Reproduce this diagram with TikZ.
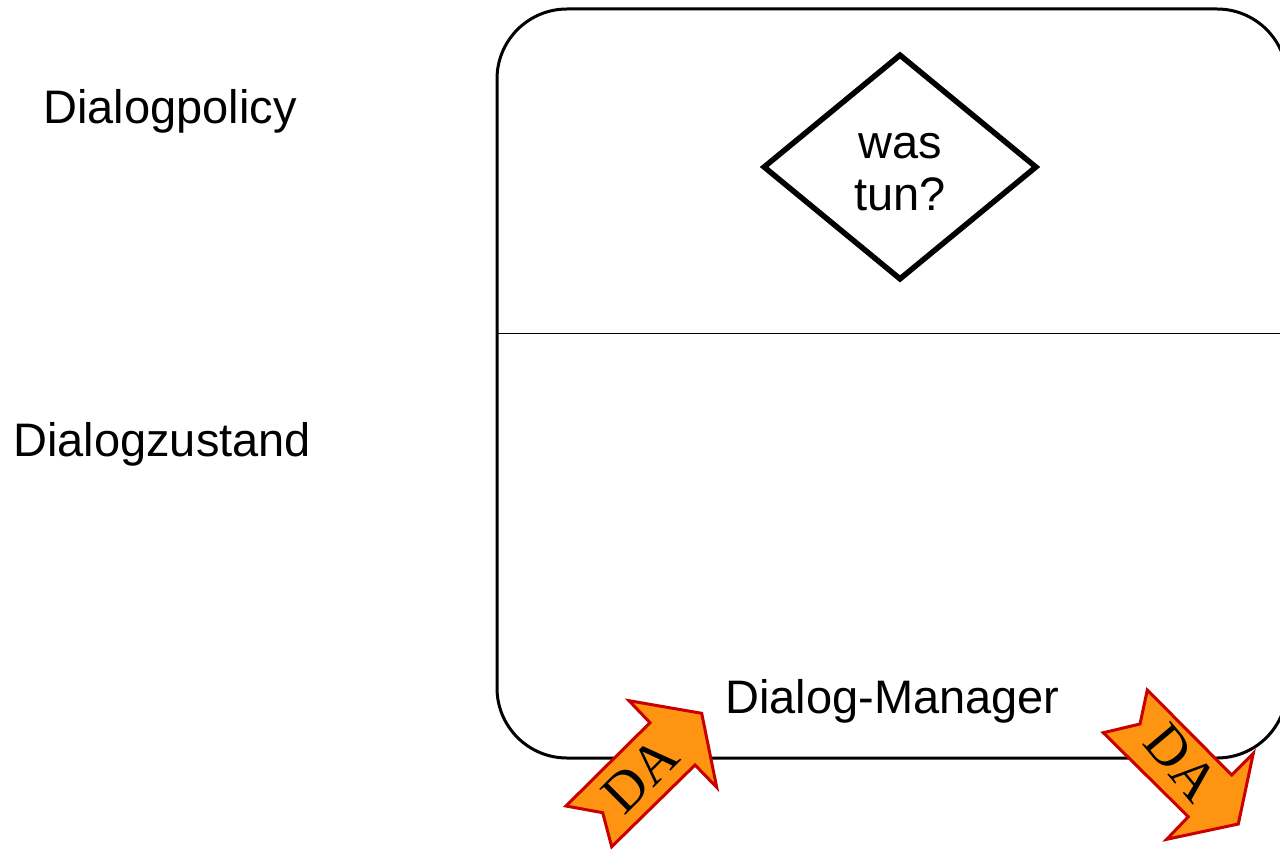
\documentclass[tikz,border=0pt]{standalone}
\usepackage{fontspec}
\setmainfont{Liberation Sans}
\newfontfamily\serifda{Liberation Serif}
\usetikzlibrary{shapes.geometric}
\definecolor{daorange}{RGB}{255,148,18}
\definecolor{dared}{RGB}{200,0,0}
\tikzset{
  lbl/.style={font=\fontsize{47}{52}\selectfont, inner sep=0pt},
  dm/.style={draw=black, line width=3pt, rounded corners=70pt},
  dec/.style={diamond, draw=black, line width=5.5pt, minimum width=274pt, minimum height=226pt, inner sep=0pt},
  daarrow/.style={fill=daorange, draw=dared, line width=3pt, line join=miter},
  datext/.style={font=\serifda\fontsize{56}{56}\selectfont, inner sep=0pt},
}
\begin{document}
\begin{tikzpicture}[x=1pt,y=-1pt]
\useasboundingbox (0,0) rectangle (1280,851);
% Dialog manager box
\draw[dm] (497,9) rectangle (1287,758);
\coordinate (sepL) at (497,333);
\coordinate (sepR) at (1287,333);
\draw[line width=1pt] (sepL) -- (sepR);
% diamond
\node[dec] (q) at (900,167) {};
\node[lbl, align=center] (qt) at (900,172) {was\\tun?};
% labels
\node[lbl, anchor=base west] (pol) at (43,123) {Dialogpolicy};
\node[lbl, anchor=base west] (zus) at (13,456) {Dialogzustand};
\node[lbl, anchor=base west] (mgr) at (725,713) {Dialog-Manager};
% left DA arrow (incoming)
\draw[daarrow] (566,806) -- (602.7,812.7) -- (611.7,846.7) -- (695,765) -- (716.7,787.3) -- (701.7,713.3) -- (629,700.7) -- (650,722.7) -- cycle;
\node[datext, rotate=45] (daL) at (640,775) {DA};
% right DA arrow (outgoing)
\draw[daarrow] (1147.3,690) -- (1140,724) -- (1103.3,732.7) -- (1188.3,816.7) -- (1166.7,839.3) -- (1238.3,824) -- (1253.3,753.3) -- (1231.7,775) -- cycle;
\node[datext, rotate=-50] (daR) at (1182,763) {DA};
\end{tikzpicture}
\end{document}
